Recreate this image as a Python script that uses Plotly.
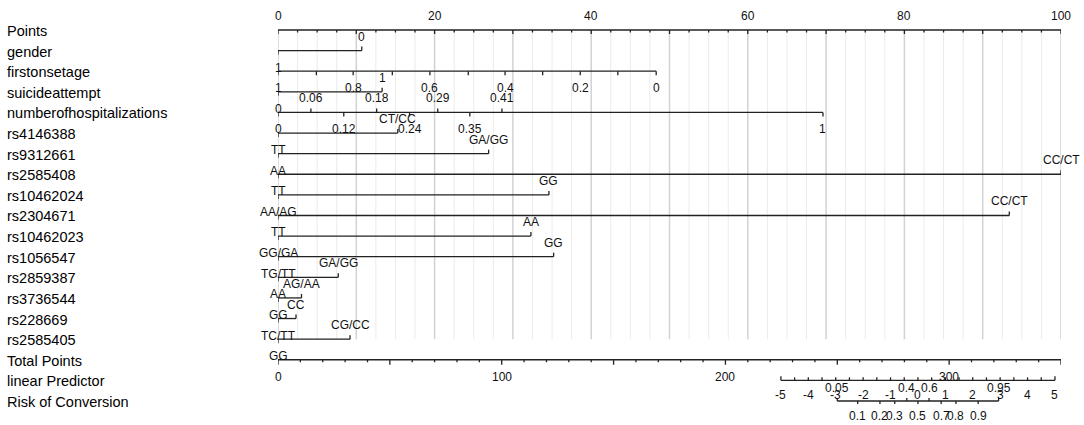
import math
import plotly.graph_objects as go

FONT = "Liberation Sans, Arial, Helvetica, sans-serif"

# ---------------- data ----------------
row_names = ["Points", "gender", "firstonsetage", "suicideattempt", "numberofhospitalizations",
             "rs4146388", "rs9312661", "rs2585408", "rs10462024", "rs2304671", "rs10462023",
             "rs1056547", "rs2859387", "rs3736544", "rs228669", "rs2585405",
             "Total Points", "linear Predictor", "Risk of Conversion"]

points_labels = [0, 20, 40, 60, 80, 100]

gender_labels = ["1", "0"]
gender_points = [0, 10.7]
gender_sides = ["below", "above"]

firstonsetage_labels = ["1", "0.8", "0.6", "0.4", "0.2", "0"]
firstonsetage_points = [0, 9.6, 19.4, 29.0, 38.6, 48.3]
firstonsetage_sides = ["below", "below", "below", "below", "below", "below"]
firstonsetage_unlabeled_points = [4.9, 14.6, 24.3, 33.8, 43.4]

suicide_labels = ["0", "1"]
suicide_points = [0, 13.3]
suicide_sides = ["below", "above"]

hosp_labels = ["0", "0.06", "0.12", "0.18", "0.24", "0.29", "0.35", "0.41", "1"]
hosp_points = [0, 4.2, 8.4, 12.6, 16.8, 20.4, 24.5, 28.6, 69.6]
hosp_sides = ["below", "above", "below", "above", "below", "above", "below", "above", "below"]

snp_names = ["rs4146388", "rs9312661", "rs2585408", "rs10462024", "rs2304671", "rs10462023",
             "rs1056547", "rs2859387", "rs3736544", "rs228669", "rs2585405"]
snp_low_labels = ["TT", "AA", "TT", "AA/AG", "TT", "GG/GA", "TG/TT", "AA", "GG", "TC/TT", "GG"]
snp_high_labels = ["CT/CC", "GA/GG", "CC/CT", "GG", "CC/CT", "AA", "GG", "GA/GG", "AG/AA", "CC", "CG/CC"]
snp_high_points = [15.3, 26.9, 100, 34.6, 93.4, 32.3, 35.2, 7.7, 3.0, 2.3, 9.2]

total_points_labels = [0, 100, 200, 300]
total_points_max = 350

lp_labels = [-5, -4, -3, -2, -1, 0, 1, 2, 3, 4, 5]
lp_zero_total_points = 286.05
total_points_per_lp = 12.25

risk_labels = ["0.05", "0.1", "0.2", "0.3", "0.4", "0.5", "0.6", "0.7", "0.8", "0.9", "0.95"]
risk_values = [0.05, 0.1, 0.2, 0.3, 0.4, 0.5, 0.6, 0.7, 0.8, 0.9, 0.95]
risk_sides = ["above", "below", "below", "below", "above", "below", "above", "below", "below", "below", "above"]

# ---------------- layout constants ----------------
FIG_W, FIG_H = 1084, 425
PLOT_LEFT, PLOT_RIGHT = 278, 1061
ROW_PX = 20.61
TOP_ROW_PX = 30
LINE_COLOR = "#222222"
TEXT_COLOR = "#111111"
TICK_FS = 12
ROW_FS = 14.5
ABOVE = 14
BELOW = -17


def rowlen(pixels):
    return pixels / ROW_PX


row = {name: i for i, name in enumerate(row_names)}

segs = {"x": ([], []), "x2": ([], []), "x3": ([], [])}
annotations = []


def seg(ax, x0, y0, x1, y1):
    xs, ys = segs[ax]
    xs += [x0, x1, None]
    ys += [y0, y1, None]


def text(ax, x, r, s, shift, size=TICK_FS):
    annotations.append(dict(x=x, y=r, xref=ax, yref="y", text=s, showarrow=False,
                            xanchor="center", yanchor="middle", yshift=shift,
                            font=dict(family=FONT, size=size, color=TEXT_COLOR)))


def tick(ax, x, r, side, length=4):
    d = rowlen(length)
    if side == "above":
        seg(ax, x, r, x, r - d)
    else:
        seg(ax, x, r, x, r + d)


# gridlines
grid_minor_x, grid_minor_y, grid_major_x, grid_major_y = [], [], [], []
g_top, g_bottom = row["Points"], row["rs2585405"]
for k in range(41):
    gx = k * 2.5
    if k % 4 == 0:
        grid_major_x += [gx, gx, None]
        grid_major_y += [g_top, g_bottom, None]
    else:
        grid_minor_x += [gx, gx, None]
        grid_minor_y += [g_top, g_bottom, None]

# Points axis
r = row["Points"]
seg("x", 0, r, 100, r)
for k in range(41):
    gx = k * 2.5
    tick("x", gx, r, "below", 4 if k % 4 == 0 else 2.5)
for v in points_labels:
    text("x", v, r, str(v), ABOVE)


def labeled_axis(name, labels, pts, sides, extra=()):
    r = row[name]
    seg("x", min(pts), r, max(pts), r)
    for lab, p, s in zip(labels, pts, sides):
        tick("x", p, r, s)
        text("x", p, r, lab, ABOVE if s == "above" else BELOW)
    for p in extra:
        tick("x", p, r, "below")


labeled_axis("gender", gender_labels, gender_points, gender_sides)
labeled_axis("firstonsetage", firstonsetage_labels, firstonsetage_points, firstonsetage_sides,
             firstonsetage_unlabeled_points)
labeled_axis("suicideattempt", suicide_labels, suicide_points, suicide_sides)
labeled_axis("numberofhospitalizations", hosp_labels, hosp_points, hosp_sides)

for name, lo, hi, hp in zip(snp_names, snp_low_labels, snp_high_labels, snp_high_points):
    labeled_axis(name, [lo, hi], [0, hp], ["below", "above"])

# Total points axis
r = row["Total Points"]
seg("x2", 0, r, total_points_max, r)
for k in range(0, total_points_max + 1, 10):
    tick("x2", k, r, "below", 5 if k % 50 == 0 else 2.5)
for v in total_points_labels:
    text("x2", v, r, str(v), BELOW)

# Linear predictor axis
r = row["linear Predictor"]
seg("x3", lp_labels[0], r, lp_labels[-1], r)
for k in range(21):
    v = lp_labels[0] + 0.5 * k
    tick("x3", v, r, "above", 4 if k in (0, 20) else 3)
for v in lp_labels:
    text("x3", v, r, str(v), -15)

# Risk axis (on the linear predictor scale)
r = row["Risk of Conversion"]
risk_lp = [math.log(p / (1 - p)) for p in risk_values]
seg("x3", min(risk_lp), r, max(risk_lp), r)
for lab, v, s in zip(risk_labels, risk_lp, risk_sides):
    tick("x3", v, r, s, 3)
    text("x3", v, r, lab, 13 if s == "above" else -15)

# Row names
for name, i in row.items():
    annotations.append(dict(x=(5 - PLOT_LEFT) / (PLOT_RIGHT - PLOT_LEFT), y=i, xref="paper", yref="y",
                            text=name, showarrow=False, xanchor="left", yanchor="middle", yshift=-1,
                            font=dict(family=FONT, size=ROW_FS, color="#000000")))

fig = go.Figure()
fig.add_trace(go.Scatter(x=grid_minor_x, y=grid_minor_y, mode="lines",
                         line=dict(color="#ebebeb", width=1), hoverinfo="skip"))
fig.add_trace(go.Scatter(x=grid_major_x, y=grid_major_y, mode="lines",
                         line=dict(color="#d2d2d2", width=1.5), hoverinfo="skip"))
for ax in ("x", "x2", "x3"):
    xs, ys = segs[ax]
    fig.add_trace(go.Scatter(x=xs, y=ys, mode="lines", xaxis=ax, yaxis="y",
                             line=dict(color=LINE_COLOR, width=1.3), hoverinfo="skip"))

lp_range = [(0 - lp_zero_total_points) / total_points_per_lp,
            (total_points_max - lp_zero_total_points) / total_points_per_lp]

fig.update_layout(
    width=FIG_W, height=FIG_H,
    margin=dict(l=PLOT_LEFT, r=FIG_W - PLOT_RIGHT, t=0, b=0, pad=0),
    paper_bgcolor="white", plot_bgcolor="white",
    showlegend=False,
    xaxis=dict(range=[0, 100], visible=False, fixedrange=True),
    xaxis2=dict(range=[0, total_points_max], overlaying="x", anchor="y", visible=False),
    xaxis3=dict(range=lp_range, overlaying="x", anchor="y", visible=False),
    yaxis=dict(range=[(FIG_H - TOP_ROW_PX) / ROW_PX, -TOP_ROW_PX / ROW_PX], visible=False),
    annotations=annotations,
)

fig.write_html("out.html", config={"displayModeBar": False},
               post_script="document.body.style.margin='0px';document.body.style.overflow='hidden';")
